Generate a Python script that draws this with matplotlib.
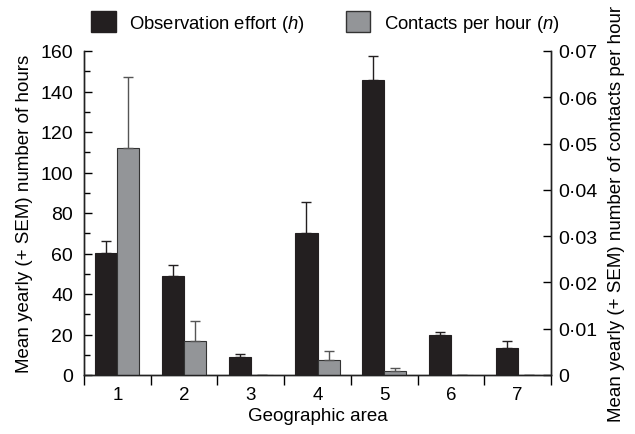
import numpy as np
import matplotlib
matplotlib.use('Agg')
import matplotlib.pyplot as plt
from matplotlib.patches import Patch

plt.rcParams['font.family'] = ['Liberation Sans', 'DejaVu Sans']
plt.rcParams['mathtext.fontset'] = 'custom'
plt.rcParams['mathtext.rm'] = 'Liberation Sans'
plt.rcParams['mathtext.it'] = 'Liberation Sans:italic'

areas = [1, 2, 3, 4, 5, 6, 7]
effort = [60.1, 49.0, 8.7, 70.0, 145.8, 19.8, 13.2]
effort_sem = [5.9, 5.2, 1.8, 15.4, 11.7, 1.6, 3.8]
contacts = [0.0491, 0.0074, 0.0001, 0.0032, 0.0008, 0.0001, 0.0001]
contacts_sem = [0.0153, 0.0042, 0.0, 0.0020, 0.0007, 0.0, 0.0]

black = '#231f20'
grey = '#939598'
w = 0.33

fig = plt.figure(figsize=(6.35, 4.35), dpi=100)
ax1 = fig.add_axes([84/635, 1 - 376/435, 467/635, 324/435])
ax2 = ax1.twinx()

x = np.array(areas)
ax1.bar(x - w/2, effort, w, color=black, edgecolor=black, linewidth=0.8,
        yerr=[np.zeros(7), effort_sem], capsize=3.6,
        error_kw=dict(ecolor=black, elinewidth=1, capthick=1))
ax2.bar(x + w/2, contacts, w, color=grey, edgecolor='#333333', linewidth=0.8,
        yerr=[np.zeros(7), contacts_sem], capsize=3.6,
        error_kw=dict(ecolor='#555555', elinewidth=1, capthick=1))

ax1.set_xlim(0.5, 7.5)
ax1.set_ylim(0, 160)
ax2.set_ylim(0, 0.07)

ax1.set_xticks(areas)
ax1.set_xticks(np.arange(0.5, 8, 1), minor=True)
ax1.tick_params(axis='x', which='major', length=0, pad=8, labelsize=13.5)
ax1.tick_params(axis='x', which='minor', direction='out', length=7, width=1)

ax1.set_yticks(np.arange(0, 161, 20))
ax1.set_yticks(np.arange(0, 161, 10), minor=True)
ax1.tick_params(axis='y', which='major', direction='in', length=6, width=1, labelsize=14, pad=8)
ax1.tick_params(axis='y', which='minor', direction='in', length=4, width=1)

rticks = np.arange(0, 0.071, 0.01)
ax2.set_yticks(rticks)
ax2.set_yticklabels(['0'] + [('%.2f' % t).replace('.', '\u00b7') for t in rticks[1:]])
ax2.tick_params(axis='y', direction='in', length=6, width=1, labelsize=14, pad=5)

for ax in (ax1, ax2):
    ax.spines['top'].set_visible(False)
    for s in ax.spines.values():
        s.set_linewidth(1)
        s.set_color('#222222')

ax1.set_xlabel('Geographic area', fontsize=13.5, labelpad=3)
ax1.set_ylabel('Mean yearly (+ SEM) number of hours', fontsize=13.5, labelpad=5)
ax2.set_ylabel('Mean yearly (+ SEM) number of contacts per hour', fontsize=13.5, labelpad=8)

handles = [Patch(facecolor=black, edgecolor=black),
           Patch(facecolor=grey, edgecolor='#333333')]
fig.legend(handles, ['Observation effort ($h$)', 'Contacts per hour ($n$)'],
           loc='upper left', bbox_to_anchor=(91/635, 1 - 12/435), ncol=2,
           frameon=False, fontsize=13.3, handlelength=1.33, handleheight=1.37,
           handletextpad=0.75, columnspacing=2.2, borderpad=0, borderaxespad=0)

fig.savefig('out.png', dpi=100)
